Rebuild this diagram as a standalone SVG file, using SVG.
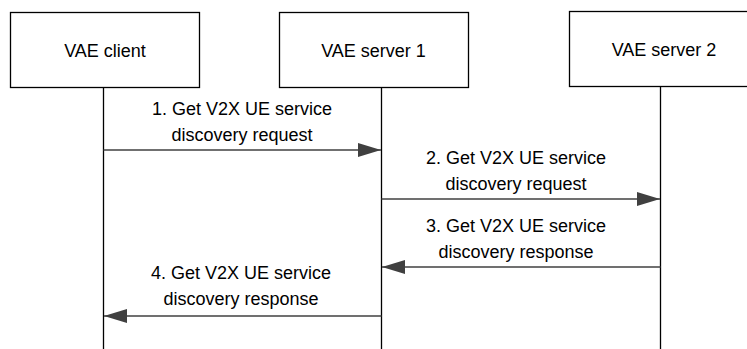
<svg xmlns="http://www.w3.org/2000/svg" width="747" height="349" viewBox="0 0 747 349">
<style>
.box{fill:#fff;stroke:#000;stroke-width:1.3}
.life{stroke:#000;stroke-width:1.3;fill:none}
.msg{stroke:#404040;stroke-width:1.5;fill:none}
text{font-family:"Liberation Sans",Arial,sans-serif;font-size:18px;fill:#000;text-anchor:middle}
</style>
<defs>
<marker id="ah" markerWidth="23" markerHeight="14" refX="23" refY="7" orient="auto" markerUnits="userSpaceOnUse">
<path d="M0,0 L23,7 L0,14 Z" fill="#404040"/>
</marker>
</defs>
<g id="lifelines">
<line class="life" x1="103.5" y1="88" x2="103.5" y2="349"/>
<line class="life" x1="381.5" y1="88" x2="381.5" y2="349"/>
<line class="life" x1="660.5" y1="87" x2="660.5" y2="349"/>
</g>
<g id="vae-client">
<rect class="box" x="10.5" y="12.5" width="189" height="75"/>
<text x="105" y="57">VAE client</text>
</g>
<g id="vae-server-1">
<rect class="box" x="279.5" y="12.5" width="189" height="75"/>
<text x="373.5" y="57">VAE server 1</text>
</g>
<g id="vae-server-2">
<rect class="box" x="569.5" y="11.5" width="189" height="75"/>
<text x="664" y="56">VAE server 2</text>
</g>
<g id="connectors">
<line class="msg" x1="103.5" y1="150" x2="381" y2="150" marker-end="url(#ah)"/>
<line class="msg" x1="381.5" y1="199" x2="660" y2="199" marker-end="url(#ah)"/>
<line class="msg" x1="660.5" y1="267" x2="382" y2="267" marker-end="url(#ah)"/>
<line class="msg" x1="381.5" y1="316" x2="104" y2="316" marker-end="url(#ah)"/>
</g>
<g id="labels">
<text x="242" y="115">1. Get V2X UE service</text>
<text x="242" y="141">discovery request</text>
<text x="516" y="164">2. Get V2X UE service</text>
<text x="516" y="190">discovery request</text>
<text x="516" y="232">3. Get V2X UE service</text>
<text x="516" y="258">discovery response</text>
<text x="241" y="279">4. Get V2X UE service</text>
<text x="241" y="305">discovery response</text>
</g>
</svg>
